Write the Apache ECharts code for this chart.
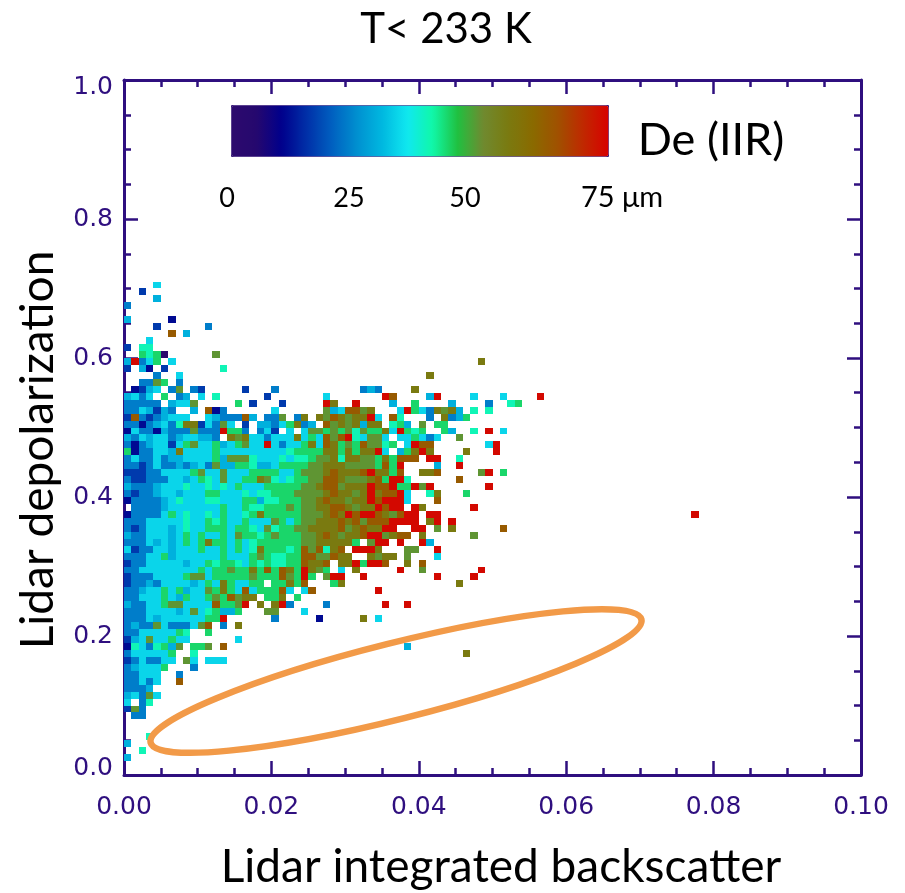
<!DOCTYPE html>
<html>
<head>
<meta charset="utf-8">
<style>html,body{margin:0;padding:0;background:#fff}</style>
<script src="https://cdn.jsdelivr.net/npm/echarts@6/dist/echarts.min.js"></script>
</head>
<body>
<div id="main" style="width:905px;height:893px"></div>
<script>
// bin size of the 2d histogram
var xBin = 0.001;
var yBin = 0.01;

// colour read from each cell -> De in um
var codeToDe = {p:3,n:11,d:16,b:23,k:29,c:33,s:39,g:43,o:49,v:55,w:63,r:74};

// one string per depolarization bin, first char = first backscatter bin
var deRows = [
"","",
"k",
"..s",
"k",
"...s",
"","",
".bb",
"dob",
"c.bs",
"kcboc",
"bbbk",
"bbcbc..w",
"bbccc..b",
"bkcccg...b",
"dbcbbcc.oc.ccc",
"bcccccg..s",
"nscbsgko.ggo.w",
"dkcoccgcc......c",
"bbcccccgs..g",
"bkbbocbbbcow.b.v",
"bbbckccccccggr",
"bbbcccckcocsgkkg...oo...c",
"kbbccgooccccwggor.v.vrb",
"bbcccgckgccgogwovv.ggv.g",
"bbkccgcgkccogvgcwcgggwc.cw",
"dbbkbcccckcgcvgccgg.ggvgw...gv",
"dbbbccccgoocgggggogggwogrg.orr..r",
"bbccccccccgcggoggvgwgwvgrvog.c.v",
"dbbccccckccgsggscgsgssggwvvw.vvrgrrw..v.w",
"bbbccgkccccccgcccgogssggwwoowvv..vovv.o",
"cdbbcckcccgccgcgcsvgggsgwowsvw.rrrv...oo",
"bbbckckcgcgvggcgcsggggggoovvvvvg.orr.r..rk",
"kbbccckcgcgccgcoggsgogggoovwvovvwrrovww.v",
"bdbccckcsccgggcggscosggoovvvvwovwvvrr..rr.o.v",
"bbbcccccsccgsgccgcccogcgoovvvwvwowwwrrrr.vr.r",
"nbbbbcgcsccscgccsgvgggggooovwvrwrrwvowrr.rr",
".bbbbkcccccccgccgssgggogoovvwwvovvrwrr.rv",
"nbbbbkcscccsscccggkssgggoovwvvovvrwrrrc...w",
"bdbbkcckcccggcccscssgggoooovwvvovrvwwrc..sv",
"kbbbkcccsccscscgcccgggggoovwwovvvrwwrggror",
"bddbbbcckcgscoccggvoscsggoowwvooovwgrrs",
"dddbbccccgoccocccggggccgooovwvvvwrvvgw..vvw",
"bbdbcbbkbkcbokkggskkcggggoovvvoooogwgr....k..r",
"bcbbcbkkccccgkoooscccscssgoovsvvoogvgwww.rr..s",
"gnbbcckvccccgcccccccccsggggvvgvgvvrc.kgvrv",
"bnbkccdcgoccgkcgoccrcbccgvcwvgogwoosg.crww",
"kbckccbkcckkb.vovccbcccvcgcwowrscooc.ccgcbc",
"ncbbnkbbbobbbrggb.bcd.c.coogogosoggvcrgsg..gk..s.r.c",
"bbnbkcbsvvdcboc.d.kkbcgvbk.wovovkvv.sgk.o.gg",
"dwbdbkccc..ckbbbwk.bbo.bv.vowvovvrc.ws...b.vbkg",
"bbckdkb..k.wnb......c......okcwwov...crgcbvovk.s.s",
"bbbbb.kcco.....g.d...d.....rv..r....k..g....k....b..sg",
"kcbc.g.bk.c.s......d.......c.......rw....kr....c...c....r",
".ndkc.bo.bd.....d...b...........bkb....v",
"..bbog.b",
"....b..c",
"d.kn.d.......s",
"krbcg.c",
"..gsgp......o",
"d.ss",
"...c",
"......w.k",
"....d......b",
"k.....n",
"",
"b",
"....k",
"..d",
"....c"
];

// cells standing away from the main cloud: [x bin, y bin, code]
var strayCells = [
[46,17,"v"],[38,18,"k"],[20,22,"b"],[26,22,"n"],[32,22,"v"],[34,22,"c"],[27,24,"b"],[35,24,"r"],
[38,24,"r"],[34,26,"r"],[45,27,"v"],[42,28,"r"],[47,28,"r"],[37,29,"r"],[40,29,"o"],[48,29,"r"],
[42,31,"c"],[42,32,"r"],[47,34,"o"],[51,35,"w"],[47,38,"r"],[46,40,"g"],[49,41,"r"],[45,42,"w"],
[48,43,"o"],[49,43,"r"],[51,43,"g"],[46,46,"v"],[50,46,"r"],[49,47,"c"],[50,47,"r"],[45,48,"o"],
[41,57,"v"],[48,59,"v"],[77,37,"r"]
];

var colorStops = ["#2d0a6e","#25086e","#00008c","#0030a8","#0060c0","#0090d0","#00b8e0","#10e8f0",
"#10f8a8","#20c040","#6f8a30","#7a7a10","#8a6a00","#a05000","#c02800","#d80000"];

var axisColor = "#2f0f7f";
var cells = [];
deRows.forEach(function(row, j){
	row.split("").forEach(function(ch, i){
		if(ch != ".") cells.push([i*xBin, j*yBin, codeToDe[ch]]);
	});
});
strayCells.forEach(function(c){
	cells.push([c[0]*xBin, c[1]*yBin, codeToDe[c[2]]]);
});

function plainAxis(pos, interval, minorSplit, showLabel, labelFmt){
	return {
		type:"value", position:pos, min:0, max:pos=="top"||pos=="bottom"?0.1:1, interval:interval,
		splitLine:{show:false}, minorSplitLine:{show:false},
		axisLine:{show:true,onZero:false,lineStyle:{color:axisColor,width:3}},
		axisTick:{show:true,inside:true,length:14,lineStyle:{color:axisColor,width:2.5}},
		minorTick:{show:true,splitNumber:minorSplit,length:7,lineStyle:{color:axisColor,width:2.5}},
		axisLabel:{show:showLabel,color:axisColor,fontFamily:"DejaVu Sans",fontSize:25,margin:10,
			formatter:labelFmt}
	};
}

var xBottom = plainAxis("bottom",0.02,4,true,function(v){return v.toFixed(2);});
xBottom.axisLabel.margin = 20;
var yLeft = plainAxis("left",0.2,4,true,function(v){return v.toFixed(1);});
yLeft.axisLabel.margin = 11;
yLeft.axisLabel.lineHeight = 14;
yLeft.axisLabel.verticalAlignMinLabel = "bottom";
yLeft.axisLabel.verticalAlignMaxLabel = "top";

function blackText(str, x, y, size, rotation){
	return {type:"text",x:x,y:y,rotation:rotation||0,z:100,
		style:{text:str,fill:"#000",font:size+"px Lato",textAlign:"center",textVerticalAlign:"middle"}};
}

var myChart = echarts.init(document.getElementById("main"));
myChart.setOption({
	animation:false,
	grid:{left:124,top:80,width:737,height:695,outerBoundsMode:"none"},
	xAxis:[xBottom, plainAxis("top",0.02,4,false)],
	yAxis:[yLeft, plainAxis("right",0.2,4,false)],
	visualMap:{
		type:"continuous", min:0, max:75, orient:"horizontal", dimension:2, seriesIndex:0,
		left:231, top:105, itemWidth:51, itemHeight:377, padding:0, text:null,
		showLabel:false, calculable:false, hoverLink:false, borderColor:"#3a1a7a", borderWidth:1,
		inRange:{color:colorStops}, outOfRange:{color:"#fff"}
	},
	graphic:[
		{type:"ellipse",z:100,x:396,y:681,rotation:0.246,shape:{cx:0,cy:0,rx:253,ry:38},
			style:{fill:null,stroke:"#f29a48",lineWidth:6.5}},
		blackText("T< 233 K",446,29,42),
		blackText("Lidar integrated backscatter",501,867,46),
		blackText("Lidar depolarization",38,450,46,Math.PI/2),
		blackText("De (IIR)",711,140,45),
		blackText("0",227,198,27),
		blackText("25",349,198,27),
		blackText("50",465,198,27),
		blackText("75 μm",622,198,29)
	],
	series:[{
		type:"custom",
		coordinateSystem:"cartesian2d",
		encode:{x:0,y:1},
		data:cells,
		renderItem:function(params, api){
			var p1 = api.coord([api.value(0), api.value(1)+yBin]);
			var p2 = api.coord([api.value(0)+xBin, api.value(1)]);
			var x1 = Math.round(p1[0]), y1 = Math.round(p1[1]);
			return {type:"rect",shape:{x:x1,y:y1,width:Math.round(p2[0])-x1,height:Math.round(p2[1])-y1},
				style:{fill:api.visual("color")}};
		}
	}]
});
</script>
</body>
</html>
